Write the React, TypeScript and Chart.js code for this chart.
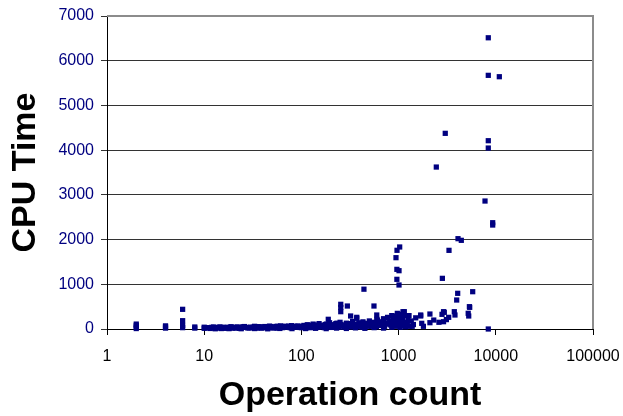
import React, { useEffect, useRef } from "react";
import { Chart, registerables } from "chart.js";

Chart.register(...registerables);

// Small operation counts (1-10)
const smallX = [2, 2, 2, 2, 4, 4, 4, 6, 6, 6, 6, 8, 8];
const smallY = [10, 40, 80, 110, 20, 50, 70, 30, 80, 186, 440, 20, 45];

// Dense band 10-100
const band1X = [10, 10, 11, 12, 12.5, 13, 14, 15, 16, 17, 18, 19, 20, 21, 22, 23, 25, 26, 28, 30, 31, 33, 35, 37, 40, 42, 44, 47, 50, 52, 55, 58, 61, 64, 68, 72, 75, 79, 83, 88, 92, 97, 13, 18, 24, 33, 45, 60, 80,
  10.5, 11.5, 12, 13.5, 14.5, 15.5, 16.5, 17.5, 18.5, 19.5, 20.5, 21.5, 23, 24, 25, 27, 29, 32, 34, 36, 38, 39, 41, 43, 46, 48, 49, 51, 54, 56, 57, 59, 63, 66, 70, 74, 77, 82, 86, 90, 95, 99];
const band1Y = [15, 40, 30, 20, 45, 25, 35, 10, 40, 28, 18, 50, 32, 22, 45, 15, 38, 55, 25, 42, 30, 60, 20, 48, 35, 55, 28, 65, 40, 22, 58, 45, 70, 30, 62, 50, 35, 75, 55, 40, 68, 50, 5, 8, 6, 10, 4, 12, 8,
  25, 12, 38, 20, 48, 30, 15, 35, 45, 22, 28, 40, 30, 18, 50, 35, 22, 40, 28, 52, 32, 18, 45, 38, 25, 55, 30, 48, 35, 20, 60, 42, 55, 38, 45, 65, 30, 50, 62, 45, 35, 58];

// Dense band 100-1000
const band2X = [102, 106, 110, 115, 120, 126, 132, 138, 145, 152, 160, 168, 176, 185, 195, 205, 215, 226, 238, 250, 262, 275, 290, 305, 320, 336, 353, 370, 390, 410, 430, 452, 475, 500, 525, 550, 578, 607, 637, 668, 700, 735, 770, 810, 850, 890, 930, 970, 990, 110, 140, 180, 230, 290, 360, 450, 560, 700, 850,
  100, 104, 108, 113, 118, 123, 129, 135, 142, 149, 156, 164, 172, 181, 190, 200, 210, 220, 232, 244, 256, 268, 282, 297, 313, 328, 345, 362, 380, 400, 420, 441, 463, 488, 512, 538, 565, 592, 622, 652, 684, 718, 752, 790, 830, 870, 910, 950, 980];
const band2Y = [55, 80, 40, 95, 60, 30, 110, 70, 45, 120, 85, 50, 100, 65, 140, 35, 90, 120, 60, 150, 80, 40, 130, 95, 60, 170, 110, 50, 140, 90, 160, 70, 120, 180, 60, 140, 100, 200, 80, 150, 230, 120, 260, 170, 300, 200, 250, 350, 180, 10, 15, 8, 20, 12, 25, 15, 30, 20, 40,
  30, 45, 70, 25, 85, 50, 35, 65, 90, 40, 55, 75, 30, 110, 60, 80, 45, 95, 130, 40, 100, 65, 55, 85, 120, 45, 75, 95, 60, 110, 40, 130, 85, 60, 100, 75, 150, 50, 120, 90, 160, 60, 110, 140, 90, 230, 130, 60, 260];

// Scattered points 100-1000 above the band
const midX = [189, 254, 254, 254, 297, 321, 371, 371, 440, 558, 596, 596, 934, 1000];
const midY = [217, 552, 480, 387, 514, 291, 239, 261, 890, 514, 313, 217, 291, 313];

// Cluster around 1000 and beyond
const clusterX = [1000, 1020, 1050, 1080, 1120, 1160, 1200, 1250, 1300, 1350, 1420, 1500, 1800, 2300, 2600, 3100, 1145, 1110, 1688, 1688, 1730, 2100, 2100, 2797, 2900, 2900, 2952, 3276, 3742, 3802, 3960, 4055, 5200, 5265, 5350, 5390, 5785, 8370,
  1040, 1070, 1100, 1180, 1230, 1280, 1380];
const clusterY = [250, 120, 330, 200, 80, 300, 150, 220, 60, 180, 100, 250, 60, 200, 150, 210, 387, 387, 313, 291, 127, 335, 141, 328, 387, 163, 373, 261, 387, 313, 648, 798, 351, 291, 499, 485, 834, 0,
  40, 150, 260, 50, 130, 300, 60];

// High CPU time points
const highX = [940, 963, 1026, 960, 1010, 960, 1010, 2443, 3020, 2820, 3300, 4085, 4417, 8370, 8370, 10870, 8370, 8370, 7745, 9290, 9290];
const highY = [1595, 1760, 1834, 1334, 1304, 1111, 984, 3622, 4376, 1133, 1759, 2020, 1983, 6513, 5673, 5642, 4211, 4047, 2862, 2377, 2325];

const xTickValues = [1, 10, 100, 1000, 10000, 100000];
const yTickValues = [0, 1000, 2000, 3000, 4000, 5000, 6000, 7000];

const xTitle = "Operation count";
const yTitle = "CPU Time";

function buildPoints() {
  const xs = [...smallX, ...band1X, ...band2X, ...midX, ...clusterX, ...highX];
  const ys = [...smallY, ...band1Y, ...band2Y, ...midY, ...clusterY, ...highY];
  return xs.map((x, i) => ({ x, y: ys[i] }));
}

const frameBorder = {
  id: "frameBorder",
  afterDraw(chart: any) {
    const { ctx, chartArea } = chart;
    ctx.save();
    ctx.strokeStyle = "#8c8c8c";
    ctx.lineWidth = 2;
    ctx.beginPath();
    ctx.moveTo(chartArea.left, chartArea.top);
    ctx.lineTo(chartArea.right, chartArea.top);
    ctx.lineTo(chartArea.right, chartArea.bottom);
    ctx.stroke();
    ctx.restore();
  },
};

export default function App() {
  const ref = useRef<HTMLCanvasElement | null>(null);

  useEffect(() => {
    if (!ref.current) return;
    const chart = new Chart(ref.current, {
      type: "scatter",
      data: {
        datasets: [
          {
            data: buildPoints(),
            pointStyle: "rect",
            pointRadius: 3.7,
            pointBorderWidth: 0,
            backgroundColor: "#000080",
            borderColor: "#000080",
            clip: false as any,
          },
        ],
      },
      options: {
        animation: false,
        responsive: false,
        layout: { padding: { top: 16, right: 30, left: 0, bottom: 0 } },
        plugins: { legend: { display: false }, tooltip: { enabled: false } },
        scales: {
          x: {
            type: "logarithmic",
            min: 1,
            max: 100000,
            afterBuildTicks: (scale: any) => {
              scale.ticks = xTickValues.map((v) => ({ value: v, major: true }));
            },
            afterFit: (scale: any) => {
              scale.height = 87;
              scale.paddingLeft = 0;
              scale.paddingRight = 0;
            },
            ticks: {
              color: "#000000",
              font: { family: "Liberation Sans, Arial, sans-serif", size: 16 },
              padding: 12,
              maxRotation: 0,
              autoSkip: false,
              callback: (v: any) => String(v),
            },
            grid: { drawOnChartArea: false, color: "#000000", tickLength: 6 },
            border: { color: "#000000", width: 1 },
            title: {
              display: true,
              text: xTitle,
              color: "#000000",
              font: { family: "Liberation Sans, Arial, sans-serif", size: 34, weight: "bold" },
              padding: { top: 0, bottom: 0 },
            },
          },
          y: {
            min: 0,
            max: 7000,
            afterBuildTicks: (scale: any) => {
              scale.ticks = yTickValues.map((v) => ({ value: v }));
            },
            afterFit: (scale: any) => {
              scale.width = 107;
              scale.paddingTop = 0;
              scale.paddingBottom = 0;
            },
            ticks: {
              color: "#000080",
              font: { family: "Liberation Sans, Arial, sans-serif", size: 16 },
              padding: 7,
              callback: (v: any) => String(v),
            },
            grid: { color: "#333333", tickLength: 6 },
            border: { color: "#000000", width: 1 },
            title: {
              display: true,
              text: yTitle,
              color: "#000000",
              font: { family: "Liberation Sans, Arial, sans-serif", size: 34, weight: "bold" },
              padding: { top: 5, bottom: 0 },
            },
          },
        },
      },
      plugins: [frameBorder],
    });
    return () => chart.destroy();
  }, []);

  return (
    <div style={{ position: "absolute", left: 0, top: 0, width: 623, height: 416, background: "#fff" }}>
      <canvas ref={ref} width={623} height={416} style={{ width: 623, height: 416 }} />
    </div>
  );
}
